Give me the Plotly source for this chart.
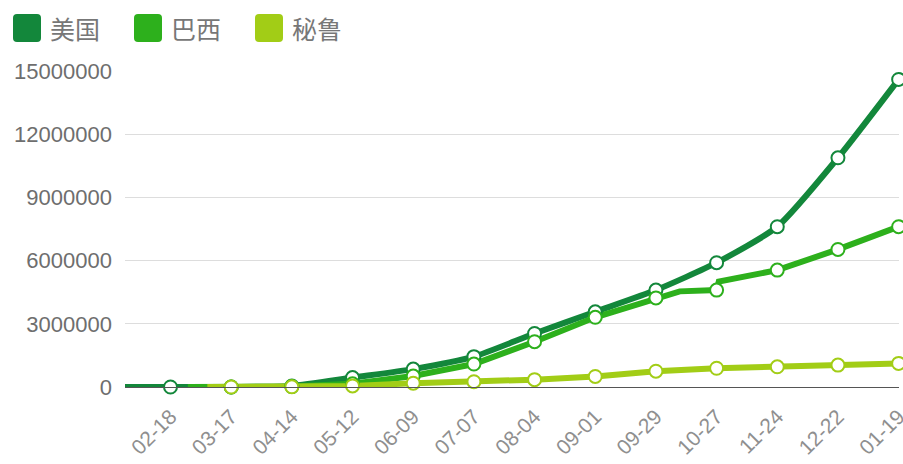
import plotly.graph_objects as go

# Tick dates shown on the x axis (every 28 days) and their labels
tick_dates = ["2020-02-18", "2020-03-17", "2020-04-14", "2020-05-12", "2020-06-09",
              "2020-07-07", "2020-08-04", "2020-09-01", "2020-09-29", "2020-10-27",
              "2020-11-24", "2020-12-22", "2021-01-19"]
tick_labels = ["02-18", "03-17", "04-14", "05-12", "06-09", "07-07", "08-04",
               "09-01", "09-29", "10-27", "11-24", "12-22", "01-19"]

# Cumulative cases per country
us_dates = ["2020-01-28"] + tick_dates
us_values = [0, 0, 0, 50000, 450000, 850000, 1440000, 2540000, 3570000,
             4600000, 5900000, 7610000, 10880000, 14600000]

brazil_dates = ["2020-02-26", "2020-03-17", "2020-04-14", "2020-05-12", "2020-06-09",
                "2020-07-07", "2020-08-04", "2020-09-01", "2020-09-29", "2020-10-10",
                "2020-10-27", "2020-10-28", "2020-11-24", "2020-12-22", "2021-01-19"]
brazil_values = [0, 0, 20000, 150000, 520000, 1090000, 2150000, 3310000, 4230000,
                 4540000, 4600000, 5000000, 5550000, 6530000, 7610000]

peru_dates = ["2020-03-06"] + tick_dates[1:]
peru_values = [0, 0, 10000, 50000, 180000, 250000, 350000, 500000, 750000,
               890000, 960000, 1040000, 1120000]

series = [
    ("美国", us_dates, us_values, "#13873B", "spline"),
    ("巴西", brazil_dates, brazil_values, "#2DB01C", "linear"),
    ("秘鲁", peru_dates, peru_values, "#A2CD16", "linear"),
]

fig = go.Figure()

# lines first
for name, d, v, c, shape in series:
    fig.add_trace(go.Scatter(x=d, y=v, mode="lines", name=name,
                             line=dict(color=c, width=6, shape=shape, smoothing=0.6),
                             showlegend=False, hoverinfo="skip"))

# hollow markers at the labelled dates, above all lines
for name, d, v, c, _ in series:
    md = [x for x in d if x in tick_dates]
    mv = [y for x, y in zip(d, v) if x in tick_dates]
    fig.add_trace(go.Scatter(x=md, y=mv, mode="markers", name=name,
                             marker=dict(size=13, color="white",
                                         line=dict(color=c, width=2)),
                             cliponaxis=False, showlegend=False))

# legend drawn as rounded squares + labels (paper coords from pixel positions)
PLOT_L, PLOT_W, PLOT_B, PLOT_H = 125, 774, 387, 316


def px(x):
    return (x - PLOT_L) / PLOT_W


def py(y):
    return (PLOT_B - y) / PLOT_H


def rounded_square(x0, y0, size, r):
    x1, y1 = x0 + size, y0 + size
    return (f"M {px(x0 + r)} {py(y0)} L {px(x1 - r)} {py(y0)} "
            f"Q {px(x1)} {py(y0)} {px(x1)} {py(y0 + r)} "
            f"L {px(x1)} {py(y1 - r)} Q {px(x1)} {py(y1)} {px(x1 - r)} {py(y1)} "
            f"L {px(x0 + r)} {py(y1)} Q {px(x0)} {py(y1)} {px(x0)} {py(y1 - r)} "
            f"L {px(x0)} {py(y0 + r)} Q {px(x0)} {py(y0)} {px(x0 + r)} {py(y0)} Z")


legend_x = [13, 134, 255]
for (name, _, _, c, _), lx in zip(series, legend_x):
    fig.add_shape(type="path", xref="paper", yref="paper",
                  path=rounded_square(lx, 14, 28, 4),
                  fillcolor=c, line=dict(width=0), layer="above")
    fig.add_annotation(text=name, xref="paper", yref="paper",
                       x=px(lx + 35), y=py(28),
                       xanchor="left", yanchor="middle", showarrow=False,
                       font=dict(size=25, color="#777777",
                                 family="Noto Sans CJK SC"))

fig.update_layout(
    width=903, height=464,
    margin=dict(l=125, r=4, t=71, b=77),
    paper_bgcolor="white", plot_bgcolor="white",
    font=dict(family="Liberation Sans, Arial, sans-serif", color="#6e6e6e"),
)
fig.update_xaxes(
    type="date", range=["2020-01-28", "2021-01-19 04:00"], automargin=False,
    tickvals=tick_dates, ticktext=tick_labels, tickangle=-45,
    tickfont=dict(size=21, color="#8f8f8f"), ticklabeloverflow="allow",
    showgrid=False, showline=True, linecolor="#555555", linewidth=1,
    ticks="", ticklabelstandoff=8,
)
fig.update_yaxes(
    range=[0, 15000000], automargin=False,
    tickvals=[0, 3000000, 6000000, 9000000, 12000000, 15000000],
    ticktext=["0", "3000000", "6000000", "9000000", "12000000", "15000000"],
    tickfont=dict(size=22, color="#6e6e6e"),
    showgrid=True, gridcolor="#dddddd", gridwidth=1, zeroline=False,
    ticks="", ticklabelstandoff=12,
)

fig.write_html("out.html")
